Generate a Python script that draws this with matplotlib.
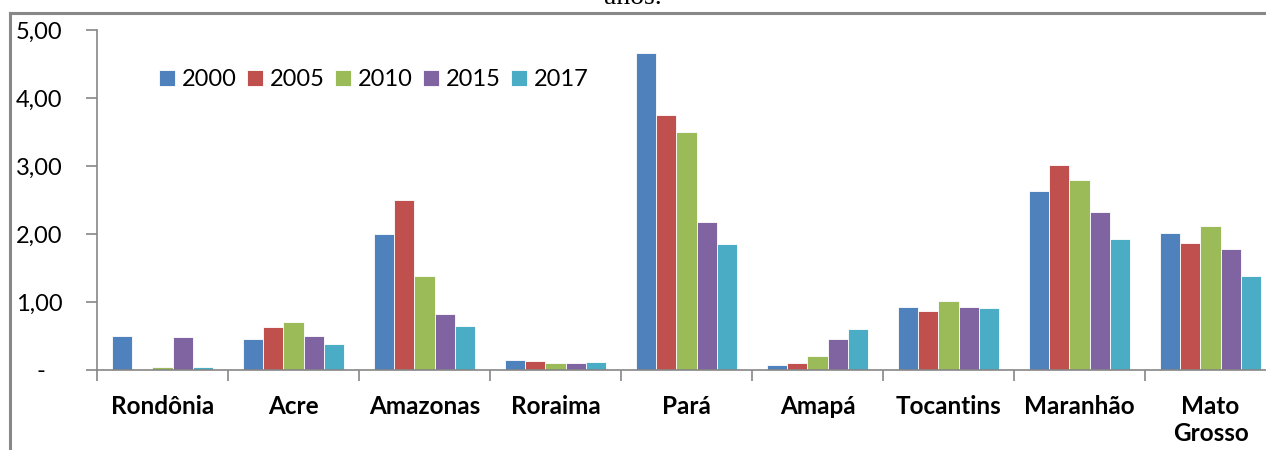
import numpy as np
import matplotlib.pyplot as plt
from matplotlib.lines import Line2D
from matplotlib.transforms import ScaledTranslation

# data
estados = ['Rondônia', 'Acre', 'Amazonas', 'Roraima', 'Pará', 'Amapá',
           'Tocantins', 'Maranhão', 'Mato\nGrosso']
anos = ['2000', '2005', '2010', '2015', '2017']
v2000 = [0.50, 0.46, 2.00, 0.15, 4.66, 0.07, 0.93, 2.63, 2.02]
v2005 = [0.00, 0.63, 2.50, 0.13, 3.75, 0.11, 0.87, 3.02, 1.87]
v2010 = [0.04, 0.71, 1.38, 0.10, 3.50, 0.20, 1.02, 2.80, 2.12]
v2015 = [0.48, 0.50, 0.82, 0.10, 2.18, 0.46, 0.93, 2.32, 1.78]
v2017 = [0.05, 0.38, 0.65, 0.12, 1.85, 0.60, 0.91, 1.93, 1.38]
series = [v2000, v2005, v2010, v2015, v2017]
cores = ['#4F81BD', '#C0504D', '#9BBB59', '#8064A2', '#4BACC6']
yticks = [0, 1, 2, 3, 4, 5]
ylabels = ['-', '1,00', '2,00', '3,00', '4,00', '5,00']

plt.rcParams['font.family'] = ['Lato', 'DejaVu Sans']

fig = plt.figure(figsize=(12.66, 4.5), dpi=100)
ax = fig.add_axes([97 / 1266, 1 - 370 / 450, 1179 / 1266, 340 / 450])

x = np.arange(len(estados))
w = 1 / 6.5
for i, (vals, c, ano) in enumerate(zip(series, cores, anos)):
    ax.bar(x + (i - 2) * w, vals, w, color=c, edgecolor='white',
           linewidth=0.6, label=ano)

ax.set_xlim(-0.5, len(estados) - 0.5)
ax.set_ylim(0, 5)
ax.set_yticks(yticks)
ax.set_yticklabels(ylabels, fontsize=17)
ax.set_xticks(x)
ax.set_xticklabels(estados, fontsize=17.5, fontweight='bold', linespacing=1.2)
ax.set_xticks(np.arange(-0.5, len(estados), 1), minor=True)
ax.tick_params(axis='x', which='major', length=0, pad=18)
ax.tick_params(axis='x', which='minor', length=8, color='#868686', width=1.2)
ax.tick_params(axis='y', length=8, color='#868686', width=1.2, pad=17)

# Excel accounting format puts the zero dash left of the number column
zero_lbl = ax.get_yticklabels()[0]
zero_lbl.set_transform(zero_lbl.get_transform()
                       + ScaledTranslation(-0.17, 0, fig.dpi_scale_trans))

for s in ['top', 'right']:
    ax.spines[s].set_visible(False)
for s in ['left', 'bottom']:
    ax.spines[s].set_color('#868686')
    ax.spines[s].set_linewidth(1.2)

ax.legend(loc='center left', bbox_to_anchor=(0.045, 0.853), ncol=5,
          frameon=False, fontsize=17, handlelength=0.65, handleheight=0.65,
          handletextpad=0.3, columnspacing=0.45, borderaxespad=0)

# outer frame of the pasted figure and the clipped caption above it
fig.add_artist(Line2D([10 / 1266, 1], [1 - 13 / 450] * 2, color='#888888', lw=2.2))
fig.add_artist(Line2D([10 / 1266] * 2, [0, 1 - 13 / 450], color='#888888', lw=2.2))
fig.text(0.5, 1 - 4 / 450, 'anos.', ha='center', va='baseline',
         fontsize=20, family='Liberation Serif')

fig.savefig('out.png', dpi=100)
